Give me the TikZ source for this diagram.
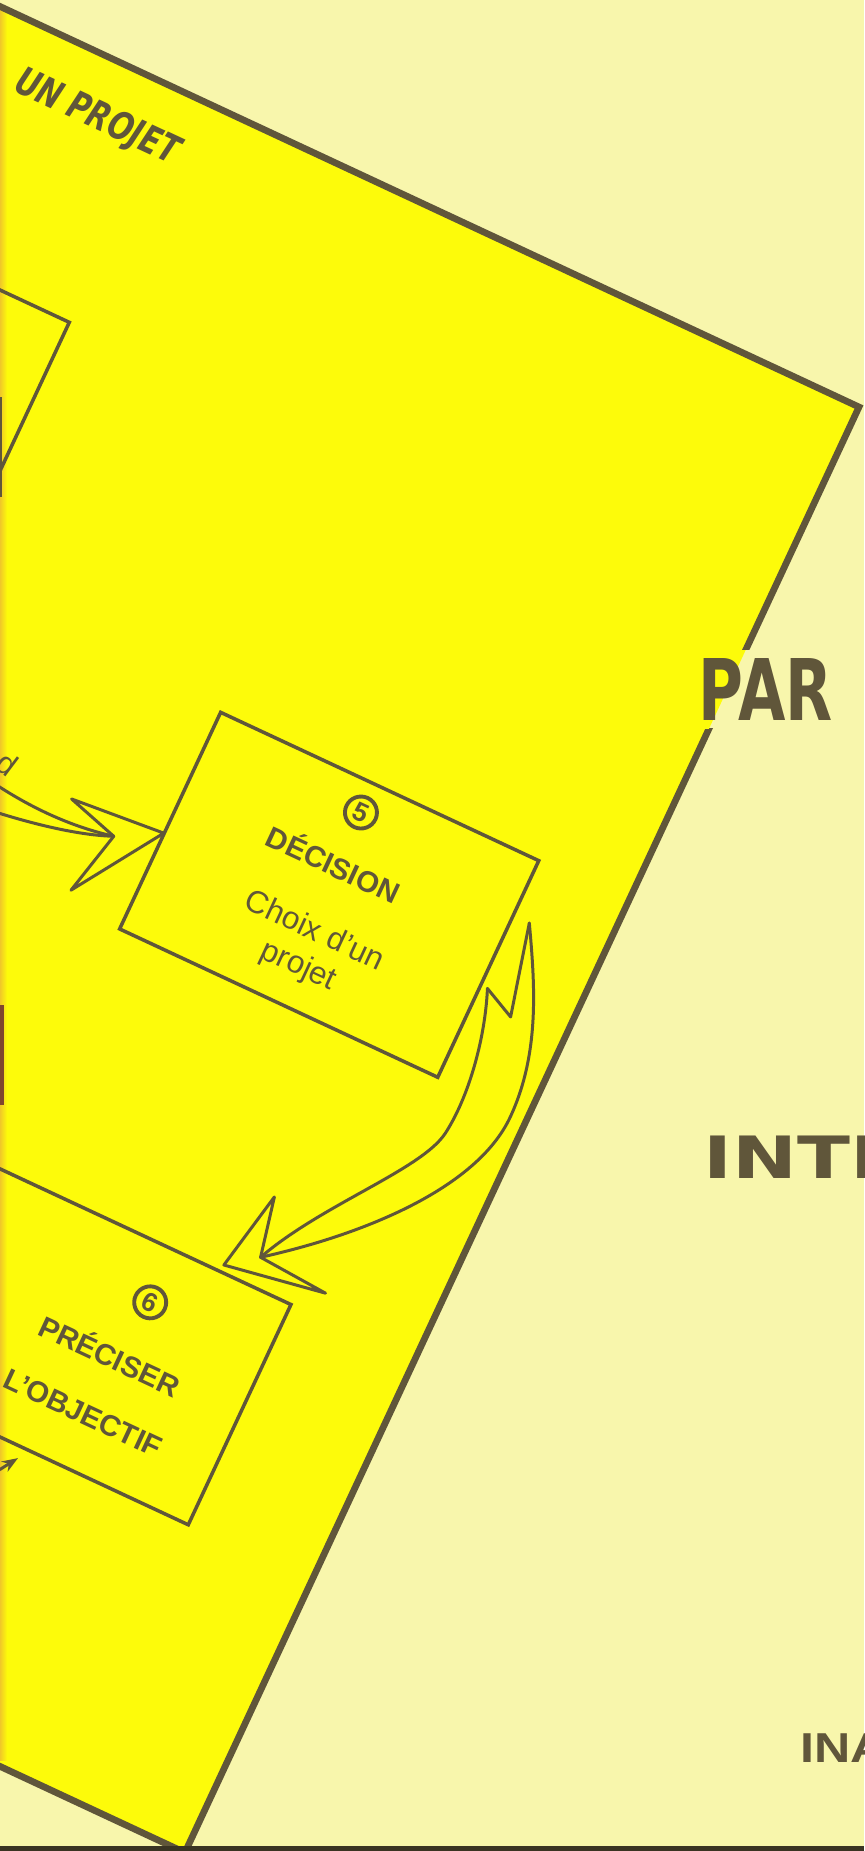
\documentclass[tikz,border=0pt]{standalone}
\usepackage{fontspec}
\setmainfont{Liberation Sans}
\newfontfamily\heavyfont{DejaVu Sans}
\usetikzlibrary{arrows.meta,positioning}
\definecolor{creambg}{RGB}{248,246,172}
\definecolor{sheetyellow}{RGB}{253,251,10}
\definecolor{inkbrown}{RGB}{96,86,58}
\definecolor{edgeorange}{RGB}{240,200,40}

\begin{document}
\begin{tikzpicture}[x=0.1mm, y=-0.1mm, every node/.style={text=inkbrown},
    sheetedge/.style={draw=inkbrown, line width=1.9pt},
    stepbox/.style={draw=inkbrown, line width=1pt, minimum width=35.1mm, transform shape},
    numcircle/.style={circle, draw=inkbrown, line width=1.1pt, minimum size=3.2mm,
      inner sep=0pt, font=\fontsize{7.5}{7.5}\selectfont\bfseries, transform shape},
    boxtitle/.style={font=\fontsize{8.4}{10}\selectfont\bfseries, inner sep=0pt,
      anchor=base, transform shape},
    boxtext/.style={font=\fontsize{9}{10.8}\selectfont, align=center, inner sep=0pt,
      transform shape},
    handarrow/.style={draw=inkbrown, line width=0.85pt, line join=round, line cap=round},
    bigword/.style={inner sep=0pt, anchor=base west}]
  \useasboundingbox (0,0) rectangle (864,1851);
  \clip (0,0) rectangle (864,1851);
  \fill[creambg] (0,0) rectangle (864,1851);

  % the yellow sheet, turned by 25 degrees
  \begin{scope}[shift={(859,407)}, rotate=-25]
    \fill[sheetyellow] (-1400,0) rectangle (0,1595);
  \end{scope}
  \shade[left color=edgeorange, right color=sheetyellow] (0,8) rectangle (7,1760);

  \begin{scope}[shift={(859,407)}, rotate=-25]
    \draw[sheetedge] (-1400,0) -- (0,0) -- (0,1595) -- (-1400,1595);

    % boxes of the chart
    \node[stepbox, minimum height=23.8mm] (stepfour) at (-927,376) {};
    \node[stepbox, minimum height=23.9mm] (decision) at (-274,666) {};
    \node[stepbox, minimum height=24.3mm] (objectif) at (-311,1175) {};

    \node[numcircle] (num5) at (-280,578) {5};
    \node[boxtitle] (dectitle) at (-283,648) {DÉCISION};
    \node[boxtext] (dectext) at (-272,725) {Choix d’un\\projet};

    \node[numcircle] (num6) at (-264,1111) {6};
    \node[boxtitle] (objtitle) at (-278,1188) {PRÉCISER};
    \node[boxtitle] (objtext) at (-278,1250) {L’OBJECTIF};

    \node[inner sep=0pt, anchor=base east, transform shape,
      font=\heavyfont\fontsize{11}{11}\selectfont\bfseries\itshape] (project) at (-724,71)
      {\scalebox{0.75}[1]{UN PROJET}};
    \node[inner sep=0pt, transform shape, rotate=-12,
      font=\fontsize{9}{9}\selectfont] (dlabel) at (-621,683) {d};

    % open arrow into the decision box
    \coordinate (tipA) at (-450,680);
    \coordinate (notchA) at (-494,704);
    \draw[handarrow] (tipA) -- (-548,688) -- (notchA) -- (-510,771) -- cycle;
    \draw[handarrow] (-700,690) .. controls (-610,716) and (-545,715) .. (notchA);
    \draw[handarrow] (-700,740) .. controls (-620,736) and (-540,724) .. (notchA);

    % double arrow between decision and objectif
    \coordinate (tipB) at (-80.7,607);
    \coordinate (barbB) at (-91,684);
    \coordinate (notchB) at (-183,1023.5);
    \coordinate (tipC) at (-213,1046);
    \draw[handarrow] (barbB) -- (-58,700) -- (tipB);
    \draw[handarrow] (tipB) .. controls (-50,660) and (-16,720) .. (-16,791)
      .. controls (-16,870) and (-100,960) .. (notchB);
    \draw[handarrow] (barbB) .. controls (-72,730) and (-62,790) .. (-68,833)
      .. controls (-74,876) and (-150,950) .. (notchB);
    \draw[handarrow] (notchB) -- (-109,1028.6) -- (tipC) -- (-196,963) -- cycle;

    % small arrow under objectif
    \draw[handarrow, -{Stealth[length=1.6mm, width=1.2mm]}] (-336,1336) -- (-318,1308);
  \end{scope}

  % marks on the left edge and bottom strip
  \draw[inkbrown, line width=0.5pt] (1,397) -- (1,497);
  \draw[inkbrown!80!red, line width=1.2pt] (2,1005) -- (2,1105);
  \fill[inkbrown!60!black] (0,1846) rectangle (864,1851);

  % knock the sheet edge out behind PAR
  \begin{scope}
    \clip (698,650) rectangle (850,728);
    \fill[creambg] (698,650) rectangle (850,728);
    \fill[sheetyellow, shift={(859,407)}, rotate=-25] (-1400,0) rectangle (0,1595);
  \end{scope}
  \node[bigword, font=\heavyfont\fontsize{24.2}{25}\selectfont\bfseries] (par) at (698,720)
    {\scalebox{0.72}[1]{PAR}};
  \node[bigword, font=\heavyfont\fontsize{16.6}{17}\selectfont\bfseries] (inter) at (703,1178)
    {\scalebox{1.33}[1]{INTE}};
  \node[bigword, font=\fontsize{11.9}{12}\selectfont\bfseries] (ina) at (800,1762)
    {\scalebox{1.2}[1]{INA}};
\end{tikzpicture}
\end{document}
